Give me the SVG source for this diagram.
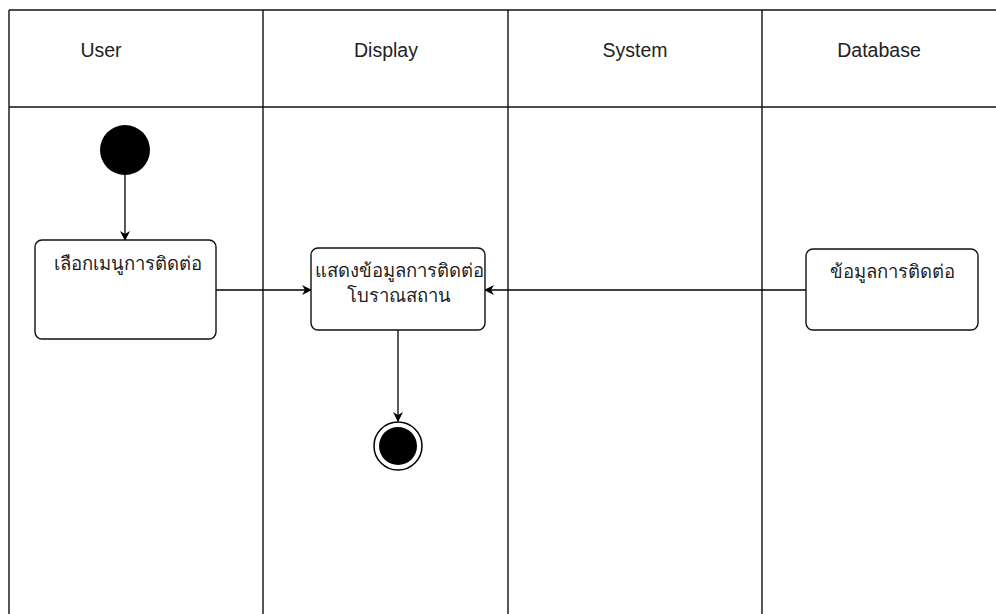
<svg xmlns="http://www.w3.org/2000/svg" width="996" height="614" viewBox="0 0 996 614">
<defs>
<style>
.lane{stroke:#111;stroke-width:1.4;fill:none}
.hdr{font-family:"Liberation Sans",Arial,sans-serif;font-size:19.5px;fill:#222;text-anchor:middle}
.node rect{fill:#fff;stroke:#111;stroke-width:1.4}
.lbl{font-family:"Noto Sans","DejaVu Sans",sans-serif;font-size:18.5px;fill:#222;text-anchor:middle}
.conn{stroke:#000;stroke-width:1.3;fill:none}
</style>
<marker id="arr" viewBox="0 0 10 10" refX="9" refY="5" markerWidth="10" markerHeight="10" markerUnits="userSpaceOnUse" orient="auto">
<path d="M0,0 L10,5 L0,10 L3,5 Z" fill="#000"/>
</marker>
</defs>
<rect width="996" height="614" fill="#fff"/>
<g id="lanes">
<line class="lane" x1="9" y1="10" x2="996" y2="10"/>
<line class="lane" x1="9" y1="107" x2="996" y2="107"/>
<line class="lane" x1="9" y1="10" x2="9" y2="614"/>
<line class="lane" x1="263" y1="10" x2="263" y2="614"/>
<line class="lane" x1="508" y1="10" x2="508" y2="614"/>
<line class="lane" x1="762" y1="10" x2="762" y2="614"/>
<text class="hdr" x="101" y="57">User</text>
<text class="hdr" x="386" y="57">Display</text>
<text class="hdr" x="635" y="57">System</text>
<text class="hdr" x="879" y="57">Database</text>
</g>
<g id="connectors">
<line class="conn" x1="125" y1="175" x2="125" y2="240" marker-end="url(#arr)"/>
<line class="conn" x1="216" y1="290" x2="311" y2="290" marker-end="url(#arr)"/>
<line class="conn" x1="806" y1="290" x2="485" y2="290" marker-end="url(#arr)"/>
<line class="conn" x1="398" y1="330" x2="398" y2="421" marker-end="url(#arr)"/>
</g>
<g id="start">
<circle cx="125" cy="150" r="25" fill="#000"/>
</g>
<g id="node1" class="node">
<rect x="35" y="240" width="181" height="99" rx="7"/>
<text class="lbl" x="128" y="270">เลือกเมนูการติดต่อ</text>
</g>
<g id="node2" class="node">
<rect x="311" y="248" width="174" height="82" rx="7"/>
<text class="lbl" x="399" y="277">แสดงข้อมูลการติดต่อ</text>
<text class="lbl" x="399" y="302">โบราณสถาน</text>
</g>
<g id="node3" class="node">
<rect x="806" y="249" width="172" height="81" rx="7"/>
<text class="lbl" x="892" y="278">ข้อมูลการติดต่อ</text>
</g>
<g id="end">
<circle cx="398" cy="446" r="24" fill="#fff" stroke="#000" stroke-width="1.5"/>
<circle cx="398" cy="446" r="19" fill="#000"/>
</g>
</svg>
